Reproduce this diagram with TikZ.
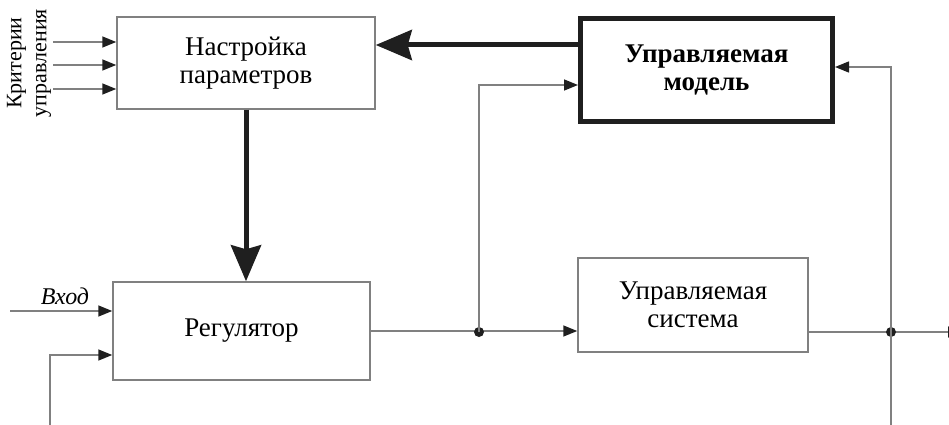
\documentclass[tikz,border=0pt]{standalone}
\usepackage{fontspec}
\setmainfont{Liberation Serif}
\usetikzlibrary{arrows.meta}
\definecolor{ln}{gray}{0.5}
\definecolor{dk}{gray}{0.12}
\tikzset{
  blk/.style={draw=ln, line width=1.5pt, fill=white, minimum width=#1, inner sep=0pt, align=center, font=\fontsize{27}{28}\selectfont},
  thin/.style={draw=ln, line width=1.5pt},
  tarr/.style={thin, -{Triangle[length=14pt,width=11pt,fill=dk,color=dk]}},
  fat/.style={draw=dk, line width=5pt, -{Stealth[length=36pt,width=30pt,inset=4pt]}},
  dot/.style={circle, fill=dk, inner sep=0pt, minimum size=10pt},
}
\begin{document}
\begin{tikzpicture}[x=1pt,y=-1pt]
\useasboundingbox (0,0) rectangle (949,425);
% blocks
\node[blk=258pt, minimum height=92pt] (nas) at (246,63) {Настройка\\параметров};
\node[blk=252pt, minimum height=102pt, draw=dk, line width=5pt, font=\fontsize{27}{28}\selectfont\bfseries] (mod) at (706.5,70) {Управляемая\\модель};
\node[blk=257pt, minimum height=98pt] (reg) at (241.5,331) {Регулятор};
\node[blk=230pt, minimum height=94pt] (sys) at (693,305) {Управляемая\\система};
% criteria
\coordinate (c1) at (53,42);
\coordinate (c2) at (53,65);
\coordinate (c3) at (53,89);
\draw[tarr] (c1) -- (nas.west |- c1);
\draw[tarr] (c2) -- (nas.west |- c2);
\draw[tarr] (c3) -- (nas.west |- c3);
\node[rotate=90, align=center, font=\fontsize{22}{25}\selectfont] (crit) at (29,63) {Критерии\\управления};
% thick arrows
\coordinate (mh) at (578,45);
\draw[fat] (mod.west |- mh) -- (nas.east |- mh);
\draw[fat] (nas.south) -- (nas.south |- reg.north);
% input
\coordinate (in) at (10,311);
\draw[tarr] (in) -- (reg.west |- in);
\node[font=\fontsize{24}{26}\selectfont\itshape, anchor=base] (inl) at (65,304) {Вход};
% feedback into regulator
\coordinate (fb0) at (50,425);
\coordinate (fb1) at (50,355);
\draw[tarr] (fb0) -- (fb1) -- (reg.west |- fb1);
% regulator -> system
\draw[tarr] (reg.east) -- (sys.west |- reg.east);
\node[dot] (d1) at (479,332) {};
\coordinate (u1) at (479,85);
\draw[tarr] (d1.center) -- (u1) -- (mod.west |- u1);
% system output
\coordinate (out) at (962,332);
\draw[tarr] (sys.east |- out) -- (out);
\node[dot] (d2) at (891,332) {};
\coordinate (v0) at (891,425);
\coordinate (v1) at (891,67);
\draw[tarr] (v0) -- (v1) -- (mod.east |- v1);
\end{tikzpicture}
\end{document}
